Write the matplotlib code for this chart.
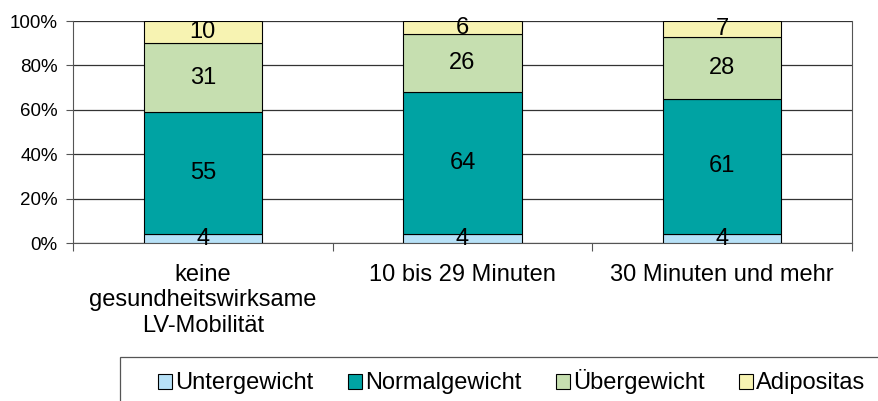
import matplotlib
matplotlib.use("Agg")
import matplotlib.pyplot as plt
from matplotlib.patches import Rectangle, Patch
import numpy as np

plt.rcParams['font.family'] = ['Liberation Sans', 'DejaVu Sans']

categories = ["keine\ngesundheitswirksame\nLV-Mobilität", "10 bis 29 Minuten", "30 Minuten und mehr"]
series_names = ["Untergewicht", "Normalgewicht", "Übergewicht", "Adipositas"]
untergewicht = [4, 4, 4]
normalgewicht = [55, 64, 61]
uebergewicht = [31, 26, 28]
adipositas = [10, 6, 7]
colors = ["#B7E1F7", "#00A3A3", "#C6DFB0", "#F7F3B2"]
yticks = [0, 20, 40, 60, 80, 100]
ytick_labels = ["0%", "20%", "40%", "60%", "80%", "100%"]

W, H = 879, 401
fig = plt.figure(figsize=(W/100, H/100), dpi=100)
ax = fig.add_axes([73/W, 1-243/H, (852-73)/W, (243-21)/H])

x = np.arange(len(categories))
series = [untergewicht, normalgewicht, uebergewicht, adipositas]
bottom = np.zeros(len(categories))
for vals, c, name in zip(series, colors, series_names):
    vals = np.array(vals, dtype=float)
    ax.bar(x, vals, 0.455, bottom=bottom, color=c, edgecolor="black", linewidth=0.8, label=name, zorder=3)
    for xi, b, v in zip(x, bottom, vals):
        ax.text(xi, b + v/2, f"{int(v)}", ha="center", va="center", fontsize=17, zorder=4)
    bottom += vals

ax.set_xlim(-0.5, 2.5)
ax.set_ylim(0, 100)
ax.set_yticks(yticks)
ax.set_yticklabels(ytick_labels, fontsize=13.5)
ax.yaxis.grid(True, color="#333333", linewidth=0.9, zorder=0)
ax.set_axisbelow(True)
ax.set_xticks([-0.5, 0.5, 1.5, 2.5])
ax.set_xticklabels([])
ax.tick_params(axis="x", length=6, width=0.8, color="#555555")
ax.tick_params(axis="y", length=5, width=0.8, color="#555555", pad=6)
for sp in ["left", "bottom", "right"]:
    ax.spines[sp].set_color("#555555")
ax.spines["top"].set_visible(False)

for xi, lab in zip(x, categories):
    ax.text(xi, -9.5, lab, ha="center", va="top", fontsize=17, linespacing=1.19,
            transform=ax.transData)

# legend frame
fig.patches.append(Rectangle((120/W, -0.1), 1.1, (401-357)/H + 0.1, transform=fig.transFigure,
                             fill=False, edgecolor="#555555", linewidth=0.9))
handles = [Patch(facecolor=c, edgecolor="black", linewidth=0.8) for c in colors]
fig.legend(handles, series_names, loc="center left", bbox_to_anchor=(158/W, 1-382/H),
           ncol=4, frameon=False, fontsize=17, handlelength=0.6, handleheight=0.6,
           handletextpad=0.13, columnspacing=1.45, borderpad=0, borderaxespad=0)

fig.savefig("out.png", dpi=100)
